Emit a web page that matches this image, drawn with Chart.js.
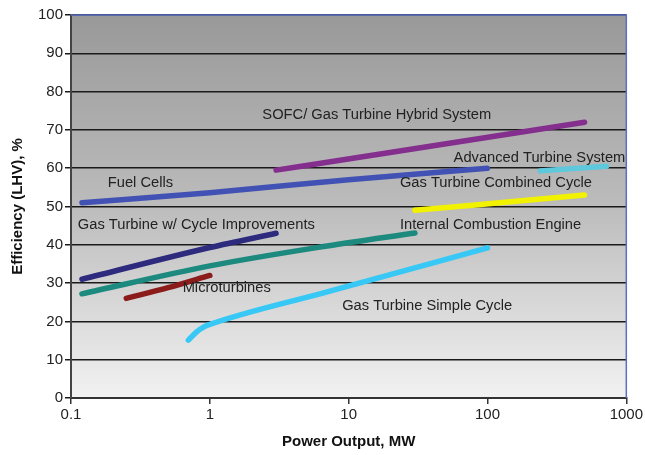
<!DOCTYPE html>
<html>
<head>
<meta charset="utf-8">
<script src="https://cdn.jsdelivr.net/npm/chart.js@4/dist/chart.umd.min.js"></script>
<style>
  html, body { margin: 0; padding: 0; background: #fff; }
  #wrap { width: 645px; height: 455px; }
</style>
</head>
<body>
<div id="wrap"><canvas id="chart" width="645" height="455"></canvas></div>
<script>
// Series data (x = MW, y = efficiency %)
const sofcX = [3, 500];
const sofcY = [59.5, 72];
const fuelCellsX = [0.12, 1, 10, 100];
const fuelCellsY = [51, 53.6, 57, 60];
const advTurbineX = [240, 720];
const advTurbineY = [59.3, 60.5];
const combinedX = [30, 500];
const combinedY = [49, 53];
const cycleImpX = [0.12, 1, 3];
const cycleImpY = [31, 39.3, 43];
const iceX = [0.12, 1, 7, 30];
const iceY = [27.2, 34.5, 39.7, 43.1];
const microX = [0.25, 0.5, 1];
const microY = [26, 28.8, 32];
const simpleX = [0.7, 0.8, 0.9, 1, 7, 100];
const simpleY = [15.1, 17.2, 18.5, 19.2, 27.7, 39.2];

const xTicks = [0.1, 1, 10, 100, 1000];

// Text labels placed in data units (left edge, vertical middle)
const labelText = ['SOFC/ Gas Turbine Hybrid System', 'Advanced Turbine System', 'Fuel Cells',
  'Gas Turbine Combined Cycle', 'Gas Turbine w/ Cycle Improvements', 'Internal Combustion Engine',
  'Microturbines', 'Gas Turbine Simple Cycle'];
const labelX = [2.39, 57, 0.184, 23.4, 0.112, 23.4, 0.637, 8.98];
const labelY = [73.9, 62.7, 56.1, 56.1, 45.2, 45.2, 28.7, 24.0];

function pts(xs, ys) {
    return xs.map((x, i) => ({ x: x, y: ys[i] }));
}

function series(label, xs, ys, color) {
    return {
        label: label,
        data: pts(xs, ys),
        borderColor: color,
        backgroundColor: color,
        borderWidth: 5.5,
        borderCapStyle: 'round',
        borderJoinStyle: 'round',
        pointRadius: 0,
        cubicInterpolationMode: 'monotone',
        fill: false
    };
}

// Background gradient, borders and labels
const decorPlugin = {
    id: 'decor',
    beforeDraw(chart) {
        const a = chart.chartArea;
        const ctx = chart.ctx;
        const g = ctx.createLinearGradient(0, a.top, 0, a.bottom);
        g.addColorStop(0, '#999999');
        g.addColorStop(0.5, '#bcbcbc');
        g.addColorStop(1, '#f2f2f2');
        ctx.save();
        ctx.fillStyle = g;
        ctx.fillRect(a.left, a.top, a.right - a.left, a.bottom - a.top);
        ctx.restore();
    },
    afterDatasetsDraw(chart) {
        const a = chart.chartArea;
        const ctx = chart.ctx;
        ctx.save();
        ctx.strokeStyle = '#5b6fc4';
        ctx.lineWidth = 1.5;
        ctx.beginPath();
        ctx.moveTo(a.left, a.top);
        ctx.lineTo(a.right, a.top);
        ctx.lineTo(a.right, a.bottom);
        ctx.stroke();

        const xs = chart.scales.x, ys = chart.scales.y;
        ctx.font = '14.7px "Liberation Sans", Arial, sans-serif';
        ctx.fillStyle = '#222';
        ctx.textAlign = 'left';
        ctx.textBaseline = 'middle';
        labelText.forEach((t, i) => {
            ctx.fillText(t, xs.getPixelForValue(labelX[i]), ys.getPixelForValue(labelY[i]));
        });
        ctx.restore();
    }
};

const ctx = document.getElementById('chart').getContext('2d');
new Chart(ctx, {
    type: 'line',
    data: {
        datasets: [
            series('Gas Turbine Simple Cycle', simpleX, simpleY, '#38c8f6'),
            series('Microturbines', microX, microY, '#8c1c1c'),
            series('Internal Combustion Engine', iceX, iceY, '#1c8a7e'),
            series('Gas Turbine w/ Cycle Improvements', cycleImpX, cycleImpY, '#2e2a7e'),
            series('Gas Turbine Combined Cycle', combinedX, combinedY, '#f2f200'),
            series('Fuel Cells', fuelCellsX, fuelCellsY, '#4252b4'),
            series('Advanced Turbine System', advTurbineX, advTurbineY, '#5ec8dc'),
            series('SOFC/ Gas Turbine Hybrid System', sofcX, sofcY, '#842e8e')
        ]
    },
    options: {
        responsive: false,
        animation: false,
        layout: { padding: { top: 15, right: 18, left: 5, bottom: 0 } },
        plugins: {
            legend: { display: false },
            tooltip: { enabled: false }
        },
        scales: {
            x: {
                type: 'logarithmic',
                min: 0.1,
                max: 1000,
                afterBuildTicks(scale) {
                    scale.ticks = xTicks.map(v => ({ value: v }));
                },
                afterFit(scale) { scale.height = 57; },
                ticks: {
                    autoSkip: false,
                    maxRotation: 0,
                    padding: 2,
                    color: '#222',
                    font: { family: '"Liberation Sans", Arial, sans-serif', size: 15 },
                    callback: v => String(v)
                },
                grid: {
                    drawOnChartArea: false,
                    drawTicks: true,
                    tickLength: 6,
                    color: '#333',
                    lineWidth: 1.5
                },
                border: { color: '#333', width: 2 },
                title: {
                    display: true,
                    text: 'Power Output, MW',
                    color: '#111',
                    font: { family: '"Liberation Sans", Arial, sans-serif', size: 15, weight: 'bold' },
                    padding: { top: 6 }
                }
            },
            y: {
                min: 0,
                max: 100,
                afterFit(scale) { scale.width = 66; },
                ticks: {
                    stepSize: 10,
                    padding: 2,
                    color: '#222',
                    font: { family: '"Liberation Sans", Arial, sans-serif', size: 15 }
                },
                grid: {
                    color: '#1a1a1a',
                    lineWidth: 1.5,
                    tickLength: 6
                },
                border: { color: '#444', width: 2 },
                title: {
                    display: true,
                    text: 'Efficiency (LHV), %',
                    color: '#111',
                    font: { family: '"Liberation Sans", Arial, sans-serif', size: 15, weight: 'bold' },
                    padding: { top: 4, bottom: 0 }
                }
            }
        }
    },
    plugins: [decorPlugin]
});
</script>
</body>
</html>
